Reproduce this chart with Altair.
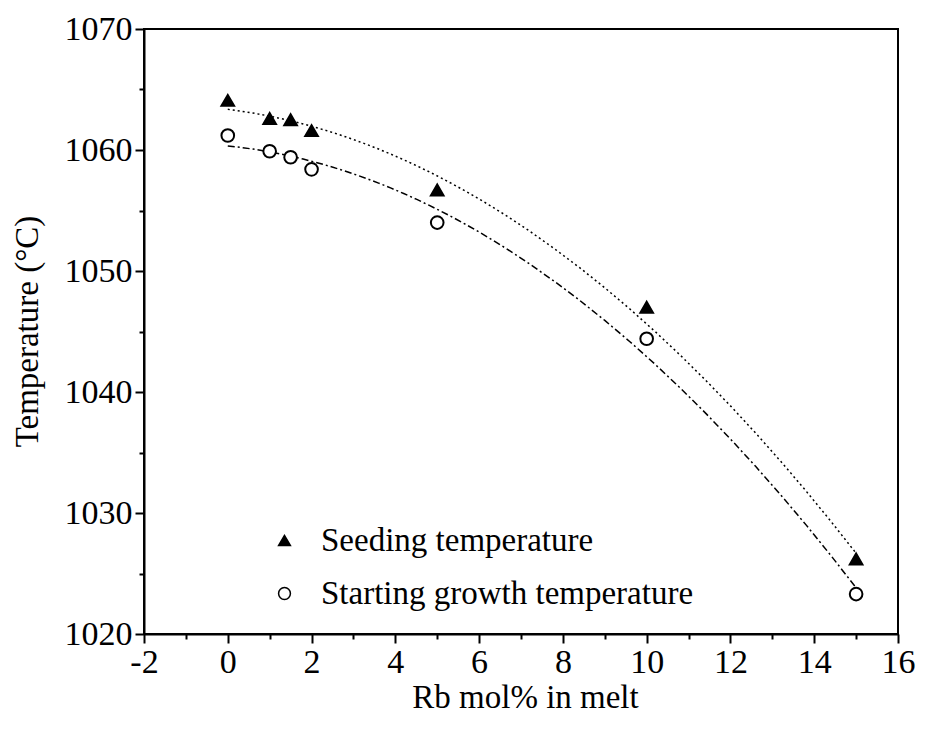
import altair as alt
import pandas as pd

rb_mol = [0, 1, 1.5, 2, 5, 10, 15]
seeding_temp = [1064.1, 1062.6, 1062.5, 1061.6, 1056.7, 1047.0, 1026.2]
starting_temp = [1061.2, 1059.9, 1059.4, 1058.4, 1054.0, 1044.4, 1023.3]
series_names = ["Seeding temperature", "Starting growth temperature"]
x_ticks = list(range(-2, 17))
y_ticks = list(range(1020, 1071, 5))

rows = []
for x, s, g in zip(rb_mol, seeding_temp, starting_temp):
    rows.append({"x": x, "y": s, "series": series_names[0]})
    rows.append({"x": x, "y": g, "series": series_names[1]})
df = pd.DataFrame(rows)

FONT = "Liberation Serif"
W = 754

xscale = alt.Scale(domain=[-2, 16], nice=False, zero=False)
yscale = alt.Scale(domain=[1020, 1070], nice=False, zero=False)

xaxis = alt.Axis(
    values=x_ticks,
    labelExpr="datum.value % 2 === 0 ? '' + datum.value : ''",
    tickSize={"condition": {"test": "datum.value % 2 === 0", "value": 9}, "value": 5},
    title="Rb mol% in melt",
    titleX=W / 2 + 4, titleY=63, titleAlign="center", titleBaseline="middle",
    grid=False, labelOverlap=False, labelFlush=False,
    labelPadding=2,
)
yaxis = alt.Axis(
    values=y_ticks,
    labelExpr="datum.value % 10 === 0 ? '' + datum.value : ''",
    tickSize={"condition": {"test": "datum.value % 10 === 0", "value": 9}, "value": 5},
    title="Temperature (\u00b0C)",
    titleX=-117, titleY=302, titleAlign="center", titleBaseline="middle", titleAngle=-90,
    grid=False, labelOverlap=False, labelFlush=False,
    labelPadding=3,
)

base = alt.Chart(df)

lines = base.transform_regression(
    "x", "y", method="poly", order=2, groupby=["series"]
).transform_calculate(
    fit="datum.series"
).mark_line(color="black", strokeWidth=1.5).encode(
    x=alt.X("x:Q", scale=xscale, axis=xaxis),
    y=alt.Y("y:Q", scale=yscale, axis=yaxis),
    strokeDash=alt.StrokeDash(
        "fit:N",
        scale=alt.Scale(domain=series_names, range=[[2, 3], [7, 3, 2, 3]]),
        legend=None,
    ),
)

legend = alt.Legend(title=None, orient="none", legendX=124, legendY=495,
                    symbolStrokeColor="black", symbolStrokeWidth=1.5)

points = base.mark_point(strokeWidth=2, opacity=1, size=160).encode(
    x=alt.X("x:Q", scale=xscale),
    y=alt.Y("y:Q", scale=yscale),
    shape=alt.Shape(
        "series:N",
        scale=alt.Scale(domain=series_names, range=["triangle-up", "circle"]),
        legend=legend,
    ),
    fill=alt.Fill(
        "series:N",
        scale=alt.Scale(domain=series_names, range=["black", "white"]),
        legend=legend,
    ),
    stroke=alt.Stroke(
        "series:N",
        scale=alt.Scale(domain=series_names, range=["black", "black"]),
        legend=legend,
    ),
)

chart = alt.layer(lines, points).resolve_scale(
    strokeDash="independent"
).properties(
    width=W,
    height=605,
    autosize=alt.AutoSizeParams(type="none"),
    padding={"left": 136, "top": 21, "right": 19, "bottom": 90},
).configure_view(
    stroke="black", strokeWidth=2
).configure_axis(
    labelFont=FONT, labelFontSize=34, labelColor="black",
    titleFont=FONT, titleFontSize=33, titleColor="black", titleFontWeight="normal",
    domainColor="black", domainWidth=2, tickColor="black", tickWidth=2,
).configure_legend(
    labelFont=FONT, labelFontSize=33, labelColor="black",
    symbolStrokeColor="black", symbolStrokeWidth=1.5, symbolSize=140,
    labelOffset=20, rowPadding=19, labelLimit=600,
)

chart.save("out.html", embed_options={"renderer": "svg", "actions": False})
